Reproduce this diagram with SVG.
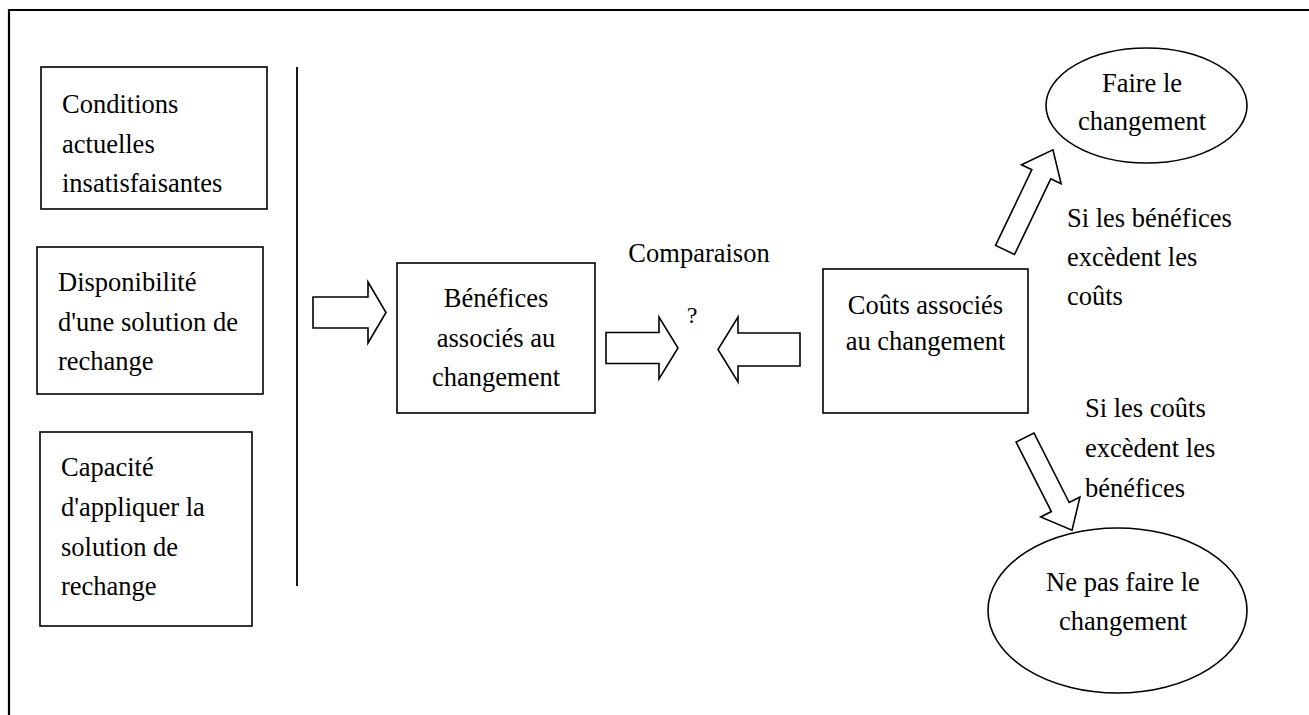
<svg xmlns="http://www.w3.org/2000/svg" width="1309" height="715" viewBox="0 0 1309 715">
<defs>
<style>
text{font-family:"Liberation Serif","Times New Roman",serif;font-size:26.5px;fill:#000}
.c{text-anchor:middle}
.box{fill:#fff;stroke:#000;stroke-width:1.6}
.ell{fill:#fff;stroke:#000;stroke-width:1.6}
.arr{fill:#fff;stroke:#000;stroke-width:1.6;stroke-linejoin:miter}
.frame{stroke:#000;stroke-width:2.2;fill:none}
</style>
</defs>
<rect x="0" y="0" width="1309" height="715" fill="#fff"/>
<path class="frame" d="M9,715 V10 H1309"/>
<line x1="297" y1="67" x2="297" y2="586" stroke="#000" stroke-width="1.8"/>

<g id="conditions">
<rect class="box" x="41" y="67" width="226" height="142"/>
<text x="62" y="113">Conditions</text>
<text x="62" y="153">actuelles</text>
<text x="62" y="192">insatisfaisantes</text>
</g>
<g id="disponibilite">
<rect class="box" x="37" y="247" width="226" height="147"/>
<text x="58" y="291">Disponibilité</text>
<text x="58" y="331">d'une solution de</text>
<text x="58" y="370">rechange</text>
</g>
<g id="capacite">
<rect class="box" x="40" y="432" width="212" height="194"/>
<text x="61" y="476">Capacité</text>
<text x="61" y="516">d'appliquer la</text>
<text x="61" y="556">solution de</text>
<text x="61" y="595">rechange</text>
</g>
<g id="benefices">
<rect class="box" x="397" y="263" width="198" height="150"/>
<text class="c" x="496" y="307">Bénéfices</text>
<text class="c" x="496" y="347">associés au</text>
<text class="c" x="496" y="386">changement</text>
</g>
<g id="comparaison">
<text class="c" x="699" y="262">Comparaison</text>
<text class="c" x="692" y="323" style="font-size:24px">?</text>
</g>
<g id="couts">
<rect class="box" x="823" y="269" width="205" height="144"/>
<text class="c" x="925.5" y="314">Coûts associés</text>
<text class="c" x="925.5" y="350">au changement</text>
</g>
<g id="faire">
<ellipse class="ell" cx="1146.5" cy="105.5" rx="100.5" ry="57.5"/>
<text class="c" x="1142" y="92">Faire le</text>
<text class="c" x="1142" y="130">changement</text>
</g>
<g id="ne-pas-faire">
<ellipse class="ell" cx="1117.5" cy="610.5" rx="129.5" ry="82.5"/>
<text class="c" x="1123" y="591">Ne pas faire le</text>
<text class="c" x="1123" y="630">changement</text>
</g>
<g id="label-benefices">
<text x="1067" y="227">Si les bénéfices</text>
<text x="1067" y="266">excèdent les</text>
<text x="1067" y="305">coûts</text>
</g>
<g id="label-couts">
<text x="1085" y="417">Si les coûts</text>
<text x="1085" y="457">excèdent les</text>
<text x="1085" y="497">bénéfices</text>
</g>

<g id="connectors">
<polygon class="arr" points="313,297 368,297 368,282 386,312.5 368,343 368,328 313,328"/>
<polygon class="arr" points="606,332.5 659,332.5 659,317 678,348 659,379 659,363.5 606,363.5"/>
<polygon class="arr" points="800,333 738,333 738,317 718,349.5 738,382 738,366 800,366"/>
<polygon class="arr" transform="translate(1005,250) rotate(-64.4)" points="0,-10.5 84,-10.5 84,-22 111,0 84,22 84,10.5 0,10.5"/>
<polygon class="arr" transform="translate(1025,437.5) rotate(63.1)" points="0,-10 78,-10 78,-22 104,0 78,22 78,10 0,10"/>
</g>
</svg>
